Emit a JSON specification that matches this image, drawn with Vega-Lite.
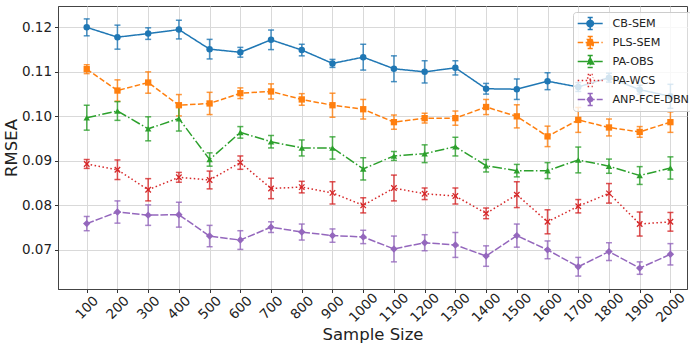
{
  "$schema": "https://vega.github.io/schema/vega-lite/v6.json",
  "width": 629,
  "height": 283,
  "autosize": {"type": "none"},
  "padding": {"left": 58, "top": 6, "right": 3, "bottom": 56},
  "config": {
    "font": "DejaVu Sans",
    "view": {"stroke": "#444", "strokeWidth": 1},
    "axis": {"labelFont": "DejaVu Sans", "labelFontSize": 13.5, "labelColor": "#222", "titleFont": "DejaVu Sans", "titleFontSize": 16.5, "titleFontWeight": "normal", "titleColor": "#222", "gridColor": "#d9d9d9", "gridWidth": 1, "tickColor": "#333", "domainColor": "#444", "tickSize": 3.5}
  },
  "data": {"values": [
    {"n":100,"m":"CB-SEM","v":0.1200,"e":0.0019},{"n":200,"m":"CB-SEM","v":0.1178,"e":0.0027},{"n":300,"m":"CB-SEM","v":0.1186,"e":0.0013},{"n":400,"m":"CB-SEM","v":0.1195,"e":0.0021},{"n":500,"m":"CB-SEM","v":0.1151,"e":0.0022},{"n":600,"m":"CB-SEM","v":0.1144,"e":0.0011},{"n":700,"m":"CB-SEM","v":0.1172,"e":0.0022},{"n":800,"m":"CB-SEM","v":0.1149,"e":0.0013},{"n":900,"m":"CB-SEM","v":0.1119,"e":0.0009},{"n":1000,"m":"CB-SEM","v":0.1133,"e":0.0029},{"n":1100,"m":"CB-SEM","v":0.1107,"e":0.0029},{"n":1200,"m":"CB-SEM","v":0.1100,"e":0.0025},{"n":1300,"m":"CB-SEM","v":0.1109,"e":0.0016},{"n":1400,"m":"CB-SEM","v":0.1062,"e":0.0012},{"n":1500,"m":"CB-SEM","v":0.1061,"e":0.0023},{"n":1600,"m":"CB-SEM","v":0.1079,"e":0.0019},{"n":1700,"m":"CB-SEM","v":0.1066,"e":0.0010},{"n":1800,"m":"CB-SEM","v":0.1087,"e":0.0010},{"n":1900,"m":"CB-SEM","v":0.1060,"e":0.0010},{"n":2000,"m":"CB-SEM","v":0.1045,"e":0.0027},
    {"n":100,"m":"PLS-SEM","v":0.1106,"e":0.0010},{"n":200,"m":"PLS-SEM","v":0.1058,"e":0.0024},{"n":300,"m":"PLS-SEM","v":0.1076,"e":0.0024},{"n":400,"m":"PLS-SEM","v":0.1025,"e":0.0024},{"n":500,"m":"PLS-SEM","v":0.1029,"e":0.0025},{"n":600,"m":"PLS-SEM","v":0.1052,"e":0.0012},{"n":700,"m":"PLS-SEM","v":0.1056,"e":0.0017},{"n":800,"m":"PLS-SEM","v":0.1038,"e":0.0013},{"n":900,"m":"PLS-SEM","v":0.1025,"e":0.0027},{"n":1000,"m":"PLS-SEM","v":0.1016,"e":0.0022},{"n":1100,"m":"PLS-SEM","v":0.0987,"e":0.0016},{"n":1200,"m":"PLS-SEM","v":0.0996,"e":0.0011},{"n":1300,"m":"PLS-SEM","v":0.0996,"e":0.0016},{"n":1400,"m":"PLS-SEM","v":0.1021,"e":0.0017},{"n":1500,"m":"PLS-SEM","v":0.1000,"e":0.0026},{"n":1600,"m":"PLS-SEM","v":0.0955,"e":0.0023},{"n":1700,"m":"PLS-SEM","v":0.0992,"e":0.0028},{"n":1800,"m":"PLS-SEM","v":0.0975,"e":0.0019},{"n":1900,"m":"PLS-SEM","v":0.0965,"e":0.0012},{"n":2000,"m":"PLS-SEM","v":0.0987,"e":0.0023},
    {"n":100,"m":"PA-OBS","v":0.0997,"e":0.0028},{"n":200,"m":"PA-OBS","v":0.1012,"e":0.0021},{"n":300,"m":"PA-OBS","v":0.0972,"e":0.0027},{"n":400,"m":"PA-OBS","v":0.0995,"e":0.0028},{"n":500,"m":"PA-OBS","v":0.0903,"e":0.0015},{"n":600,"m":"PA-OBS","v":0.0964,"e":0.0013},{"n":700,"m":"PA-OBS","v":0.0943,"e":0.0014},{"n":800,"m":"PA-OBS","v":0.0929,"e":0.0018},{"n":900,"m":"PA-OBS","v":0.0929,"e":0.0025},{"n":1000,"m":"PA-OBS","v":0.0882,"e":0.0025},{"n":1100,"m":"PA-OBS","v":0.0911,"e":0.0010},{"n":1200,"m":"PA-OBS","v":0.0916,"e":0.0020},{"n":1300,"m":"PA-OBS","v":0.0932,"e":0.0021},{"n":1400,"m":"PA-OBS","v":0.0889,"e":0.0014},{"n":1500,"m":"PA-OBS","v":0.0878,"e":0.0014},{"n":1600,"m":"PA-OBS","v":0.0878,"e":0.0018},{"n":1700,"m":"PA-OBS","v":0.0902,"e":0.0029},{"n":1800,"m":"PA-OBS","v":0.0888,"e":0.0016},{"n":1900,"m":"PA-OBS","v":0.0867,"e":0.0020},{"n":2000,"m":"PA-OBS","v":0.0884,"e":0.0025},
    {"n":100,"m":"PA-WCS","v":0.0893,"e":0.0010},{"n":200,"m":"PA-WCS","v":0.0880,"e":0.0022},{"n":300,"m":"PA-WCS","v":0.0835,"e":0.0025},{"n":400,"m":"PA-WCS","v":0.0863,"e":0.0011},{"n":500,"m":"PA-WCS","v":0.0857,"e":0.0020},{"n":600,"m":"PA-WCS","v":0.0896,"e":0.0015},{"n":700,"m":"PA-WCS","v":0.0838,"e":0.0023},{"n":800,"m":"PA-WCS","v":0.0841,"e":0.0013},{"n":900,"m":"PA-WCS","v":0.0828,"e":0.0025},{"n":1000,"m":"PA-WCS","v":0.0800,"e":0.0017},{"n":1100,"m":"PA-WCS","v":0.0839,"e":0.0029},{"n":1200,"m":"PA-WCS","v":0.0826,"e":0.0013},{"n":1300,"m":"PA-WCS","v":0.0821,"e":0.0018},{"n":1400,"m":"PA-WCS","v":0.0782,"e":0.0012},{"n":1500,"m":"PA-WCS","v":0.0824,"e":0.0029},{"n":1600,"m":"PA-WCS","v":0.0763,"e":0.0027},{"n":1700,"m":"PA-WCS","v":0.0798,"e":0.0015},{"n":1800,"m":"PA-WCS","v":0.0827,"e":0.0022},{"n":1900,"m":"PA-WCS","v":0.0758,"e":0.0027},{"n":2000,"m":"PA-WCS","v":0.0763,"e":0.0021},
    {"n":100,"m":"ANP-FCE-DBN","v":0.0759,"e":0.0016},{"n":200,"m":"ANP-FCE-DBN","v":0.0785,"e":0.0025},{"n":300,"m":"ANP-FCE-DBN","v":0.0778,"e":0.0023},{"n":400,"m":"ANP-FCE-DBN","v":0.0779,"e":0.0028},{"n":500,"m":"ANP-FCE-DBN","v":0.0731,"e":0.0024},{"n":600,"m":"ANP-FCE-DBN","v":0.0722,"e":0.0021},{"n":700,"m":"ANP-FCE-DBN","v":0.0751,"e":0.0012},{"n":800,"m":"ANP-FCE-DBN","v":0.0740,"e":0.0018},{"n":900,"m":"ANP-FCE-DBN","v":0.0732,"e":0.0015},{"n":1000,"m":"ANP-FCE-DBN","v":0.0729,"e":0.0015},{"n":1100,"m":"ANP-FCE-DBN","v":0.0702,"e":0.0029},{"n":1200,"m":"ANP-FCE-DBN","v":0.0716,"e":0.0018},{"n":1300,"m":"ANP-FCE-DBN","v":0.0711,"e":0.0028},{"n":1400,"m":"ANP-FCE-DBN","v":0.0686,"e":0.0023},{"n":1500,"m":"ANP-FCE-DBN","v":0.0732,"e":0.0026},{"n":1600,"m":"ANP-FCE-DBN","v":0.0700,"e":0.0020},{"n":1700,"m":"ANP-FCE-DBN","v":0.0662,"e":0.0021},{"n":1800,"m":"ANP-FCE-DBN","v":0.0696,"e":0.0020},{"n":1900,"m":"ANP-FCE-DBN","v":0.0659,"e":0.0014},{"n":2000,"m":"ANP-FCE-DBN","v":0.0690,"e":0.0024}
  ]},
  "encoding": {
    "x": {"field": "n", "type": "quantitative", "title": "Sample Size",
      "scale": {"domain": [6.5, 2054], "nice": false, "zero": false},
      "axis": {"values": [100,200,300,400,500,600,700,800,900,1000,1100,1200,1300,1400,1500,1600,1700,1800,1900,2000], "format": "d", "labelAngle": -45, "labelAlign": "center", "labelBaseline": "middle", "labelPadding": 15, "titlePadding": 2, "labelFlush": false, "labelOverlap": false, "grid": true}},
    "y": {"field": "v", "type": "quantitative", "title": "RMSEA",
      "scale": {"domain": [0.0612, 0.1248], "nice": false, "zero": false},
      "axis": {"values": [0.07,0.08,0.09,0.10,0.11,0.12], "format": ".2f", "titlePadding": 2, "labelPadding": 3, "grid": true}},
    "color": {"field": "m", "type": "nominal",
      "scale": {"domain": ["CB-SEM","PLS-SEM","PA-OBS","PA-WCS","ANP-FCE-DBN"], "range": ["#1f77b4","#ff7f0e","#2ca02c","#d62728","#9467bd"]},
      "legend": {"title": null, "orient": "none", "legendX": 515, "legendY": 6, "padding": 2, "fillColor": "rgba(255,255,255,0.8)", "strokeColor": "#cccccc", "cornerRadius": 3, "labelFont": "DejaVu Sans", "labelFontSize": 11.2, "labelColor": "#222", "symbolSize": 289, "labelOffset": 18.4, "rowPadding": 0,
        "encode": {"symbols": {"update": {
          "shape": {"signal": "datum.value==='CB-SEM'?'M-0.8,0L2.14,0M0.67,-0.7L0.67,0.7M0.37,-0.7L0.97,-0.7M0.37,0.7L0.97,0.7M1.05,0A0.38,0.38,0,1,1,0.29,0A0.38,0.38,0,1,1,1.05,0Z':datum.value==='PLS-SEM'?'M-0.8,0L-0.15,0M0.13,0L0.78,0M1.06,0L1.71,0M1.99,0L2.14,0M0.67,-0.7L0.67,0.7M0.37,-0.7L0.97,-0.7M0.37,0.7L0.97,0.7M0.32,-0.35L1.02,-0.35L1.02,0.35L0.32,0.35Z':datum.value==='PA-OBS'?'M-0.8,0L0.33,0M0.61,0L0.79,0M1.07,0L2.14,0M0.67,-0.7L0.67,0.7M0.37,-0.7L0.97,-0.7M0.37,0.7L0.97,0.7M0.67,-0.42L1.07,0.3L0.27,0.3Z':datum.value==='PA-WCS'?'M-0.8,0L-0.62,0M-0.33,0L-0.15,0M0.14,0L0.32,0M0.61,0L0.79,0M1.08,0L1.26,0M1.55,0L1.73,0M2.02,0L2.14,0M0.67,-0.7L0.67,0.7M0.37,-0.7L0.97,-0.7M0.37,0.7L0.97,0.7M0.32,-0.35L1.02,0.35M0.32,0.35L1.02,-0.35':'M-0.8,0L0.08,0M0.32,0L1.2,0M1.44,0L2.14,0M0.67,-0.7L0.67,0.7M0.37,-0.7L0.97,-0.7M0.37,0.7L0.97,0.7M0.67,-0.45L1,0L0.67,0.45L0.34,0Z'"},
          "fill": {"scale": "color", "field": "value"},
          "stroke": {"scale": "color", "field": "value"},
          "strokeWidth": {"value": 1.5},
          "strokeDash": {"value": [1, 0]},
          "opacity": {"value": 1},
          "size": {"value": 289}
        }}}}}
  },
  "layer": [
    {
      "mark": {"type": "errorbar", "ticks": true, "thickness": 1.5, "size": 6, "opacity": 0.8},
      "encoding": {"yError": {"field": "e"}}
    },
    {
      "mark": {"type": "line", "strokeWidth": 1.5},
      "encoding": {
        "strokeDash": {"field": "m", "type": "nominal",
          "scale": {"domain": ["CB-SEM","PLS-SEM","PA-OBS","PA-WCS","ANP-FCE-DBN"], "range": [[1,0],[5.5,2.4],[9.6,2.4,1.5,2.4],[1.5,2.5],[7.5,2]]},
          "legend": null}
      }
    },
    {"transform": [{"filter": "datum.m === 'CB-SEM'"}], "mark": {"type": "point", "shape": "circle", "filled": true, "size": 42, "opacity": 1}},
    {"transform": [{"filter": "datum.m === 'PLS-SEM'"}], "mark": {"type": "point", "shape": "square", "filled": true, "size": 40, "opacity": 1}},
    {"transform": [{"filter": "datum.m === 'PA-OBS'"}], "mark": {"type": "point", "shape": "triangle-up", "filled": true, "size": 42, "opacity": 1}},
    {"transform": [{"filter": "datum.m === 'PA-WCS'"}], "mark": {"type": "point", "shape": "M-1,-1L1,1M-1,1L1,-1", "filled": false, "size": 30, "strokeWidth": 1.3, "opacity": 1}},
    {"transform": [{"filter": "datum.m === 'ANP-FCE-DBN'"}], "mark": {"type": "point", "shape": "M0,-1L1,0L0,1L-1,0Z", "filled": true, "size": 55, "opacity": 1}}
  ]
}
